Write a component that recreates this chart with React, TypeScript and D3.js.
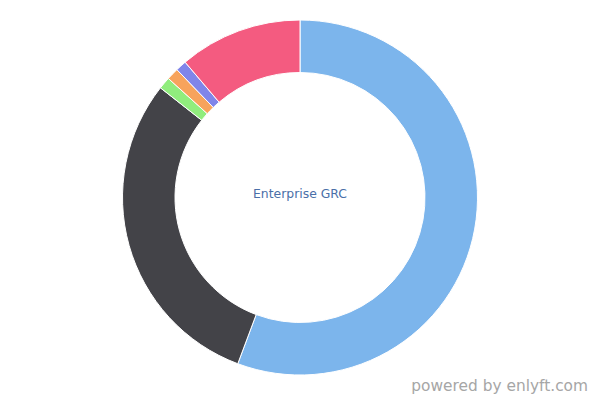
import React from "react";
import * as d3 from "d3";

const categories = ["A", "B", "C", "D", "E", "F"];
const values = [55.7, 29.9, 1.1, 1.1, 1.0, 11.2];
const colors = ["#7cb5ec", "#434348", "#90ed7d", "#f7a35c", "#8085e9", "#f45b80"];
const centerLabel = "Enterprise GRC";
const credit = "powered by enlyft.com";

export default function App() {
  const width = 600;
  const height = 400;
  const cx = 300;
  const cy = 197.5;
  const outerR = 177.5;
  const innerR = 125;
  const pie = d3.pie<number>().sort(null).value((d) => d)(values);
  const arc = d3.arc<d3.PieArcDatum<number>>().innerRadius(innerR).outerRadius(outerR);
  return (
    <svg width={width} height={height} style={{ position: "absolute", left: 0, top: 0 }}>
      <rect width={width} height={height} fill="#ffffff" />
      <g transform={`translate(${cx},${cy})`}>
        {pie.map((p, i) => (
          <path key={categories[i]} d={arc(p) || ""} fill={colors[i]} stroke="#ffffff" strokeWidth={1} strokeLinejoin="round" />
        ))}
      </g>
      <text x={cx} y={197.5} textAnchor="middle" fontFamily="DejaVu Sans" fontSize={12.4} fill="#4a6fa8">
        {centerLabel}
      </text>
      <text x={588} y={391} textAnchor="end" fontFamily="DejaVu Sans" fontSize={15.4} fill="#a6a6a6">
        {credit}
      </text>
    </svg>
  );
}
